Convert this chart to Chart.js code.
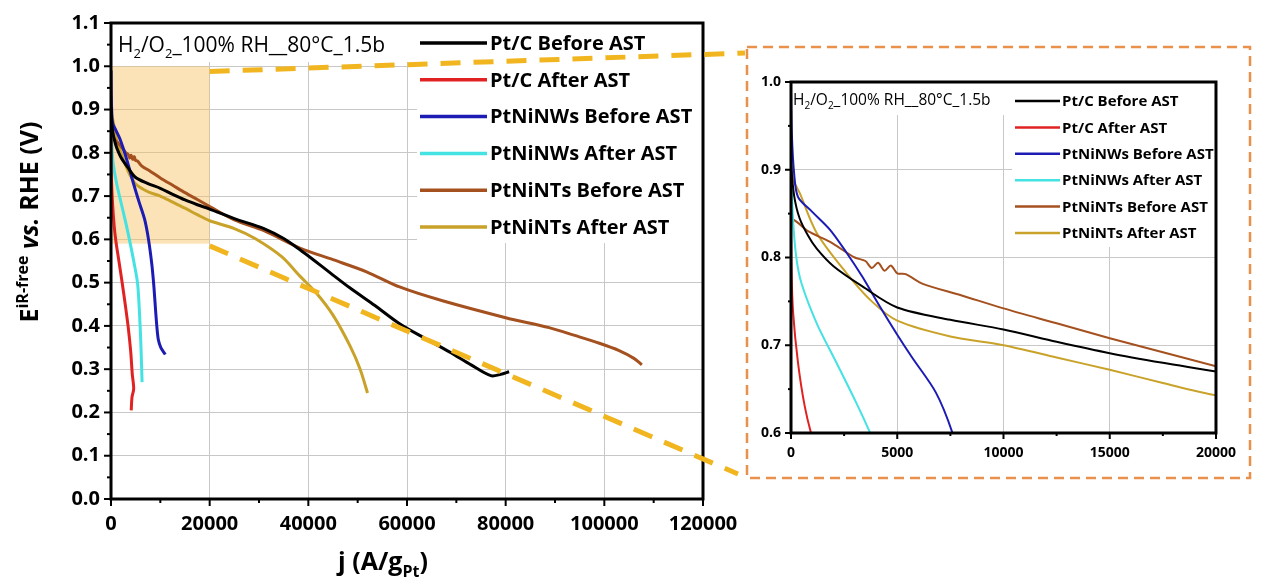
<!DOCTYPE html>
<html><head><meta charset="utf-8">
<script src="https://cdn.jsdelivr.net/npm/chart.js@4"></script>
<style>
html,body{margin:0;padding:0;background:#fff;}
#wrap{position:relative;width:1261px;height:579px;overflow:hidden;background:#fff;}
#main{position:absolute;left:0;top:0;}
#inset{position:absolute;left:749px;top:49px;}
</style></head><body>
<div id="wrap"><canvas id="main" width="1261" height="579"></canvas><canvas id="inset" width="499" height="427"></canvas></div>
<script>
// ---------------- data ----------------
const seriesLabels = ['Pt/C Before AST','Pt/C After AST','PtNiNWs Before AST','PtNiNWs After AST','PtNiNTs Before AST','PtNiNTs After AST'];
const seriesColors = ['#000000','#e12222','#1c1cb4','#44e2e2','#a4501f','#c9a229'];

const ptcBefore = [[0,0.905],[150,0.87],[400,0.845],[800,0.825],[1210,0.81],[2000,0.79],[3360,0.767],[5000,0.743],[7500,0.729],[10000,0.718],[12500,0.704],[15000,0.691],[17500,0.68],[20000,0.67],[25000,0.648],[31000,0.625],[35000,0.602],[38300,0.576],[41000,0.553],[44500,0.522],[48400,0.488],[53500,0.447],[58500,0.405],[63500,0.372],[68600,0.340],[73000,0.310],[77000,0.285],[79000,0.288],[80700,0.294]];
const ptcAfter = [[0,0.86],[20,0.79],[100,0.737],[330,0.68],[650,0.63],[1000,0.595],[1600,0.55],[2300,0.497],[3000,0.44],[3500,0.396],[4000,0.34],[4300,0.29],[4600,0.255],[4250,0.235],[4100,0.205]];
const nwBefore = [[0,0.99],[40,0.94],[150,0.895],[330,0.869],[1000,0.852],[1820,0.832],[2600,0.806],[3360,0.778],[4160,0.745],[5000,0.712],[5700,0.686],[6820,0.646],[7600,0.60],[8300,0.54],[8700,0.49],[9000,0.442],[9300,0.398],[9600,0.368],[10100,0.350],[11000,0.334]];
const nwAfter = [[0,0.92],[80,0.85],[250,0.80],[500,0.77],[1210,0.725],[2140,0.68],[3080,0.634],[3800,0.596],[4600,0.55],[5400,0.497],[5900,0.40],[6100,0.343],[6300,0.27]];
const ntBefore = [[0,0.845],[300,0.84],[800,0.83],[1820,0.818],[3000,0.80],[3500,0.796],[3800,0.788],[4100,0.794],[4400,0.785],[4700,0.791],[5000,0.782],[5400,0.781],[6200,0.770],[8000,0.757],[10000,0.742],[12500,0.725],[15000,0.708],[17500,0.692],[20000,0.676],[25000,0.645],[31000,0.62],[38300,0.58],[45000,0.553],[51800,0.525],[58500,0.49],[67200,0.458],[80000,0.419],[88800,0.396],[94000,0.378],[99000,0.36],[103000,0.343],[106000,0.325],[107600,0.31]];
const ntAfter = [[0,0.93],[100,0.89],[420,0.873],[1210,0.828],[2620,0.782],[3800,0.75],[5000,0.728],[7500,0.71],[10000,0.70],[12500,0.686],[15000,0.672],[17500,0.657],[20000,0.643],[25000,0.625],[29200,0.602],[34600,0.56],[38300,0.515],[41700,0.475],[45000,0.425],[48400,0.355],[50500,0.30],[52000,0.245]];
const allSeries = [ptcBefore, ptcAfter, nwBefore, nwAfter, ntBefore, ntAfter];

// axes
const mainX = {min:0, max:120000, step:20000, minor:10000};
const mainY = {min:0, max:1.1, step:0.1, minor:0.05};
const insetX = {min:0, max:20000, step:5000, minor:2500};
const insetY = {min:0.6, max:1.0, step:0.1, minor:0.05};
// highlighted zoom region on main chart
const zoomX = [0, 20000];
const zoomY = [0.59, 1.0];

// texts
const condText = [['H',0],['2',1],['/O',0],['2',1],['_100% RH__80°C_1.5b',0]];
const xTitle = [['j (A/g',0],['Pt',1],[')',0]];
const yTitle = [['E',0],['iR-free',-1],[' ',0],['vs.',2],[' RHE (V)',0]];

// ---------------- helpers ----------------
const FAM = '"Open Sans", sans-serif';
function partFont(kind, size, bold){
  const w = bold ? 'bold ' : '';
  if (kind===1 || kind===-1) return w + Math.round(size*0.62) + 'px ' + FAM;
  if (kind===2) return 'italic ' + w + size + 'px ' + FAM;
  return w + size + 'px ' + FAM;
}
function richDraw(ctx, x, y, parts, size, bold, align){
  let total = 0;
  for (const [t,k] of parts){ ctx.font = partFont(k,size,bold); total += ctx.measureText(t).width; }
  let cx = align==='center' ? x - total/2 : x;
  ctx.textBaseline = 'alphabetic'; ctx.textAlign = 'left';
  for (const [t,k] of parts){
    ctx.font = partFont(k,size,bold);
    const dy = k===1 ? size*0.28 : (k===-1 ? -size*0.42 : 0);
    ctx.fillText(t, cx, y+dy);
    cx += ctx.measureText(t).width;
  }
}

const decoPlugin = {
  id:'deco',
  beforeDatasetsDraw(chart, args, o){
    const {ctx, scales:{x,y}} = chart;
    ctx.save();
    if (o.shade){
      const x0=x.getPixelForValue(o.shade.x[0]), x1=x.getPixelForValue(o.shade.x[1]);
      const y0=y.getPixelForValue(o.shade.y[1]), y1=y.getPixelForValue(o.shade.y[0]);
      ctx.fillStyle='rgba(246,192,96,0.45)';
      ctx.fillRect(x0,y0,x1-x0,y1-y0);
    }
    ctx.fillStyle='#fff';
    for (const b of o.whiteBoxes) ctx.fillRect(b[0],b[1],b[2],b[3]);
    ctx.restore();
  },
  afterDatasetsDraw(chart, args, o){
    const {ctx, chartArea:a, scales:{x,y}} = chart;
    const f = o.frame;
    ctx.save();
    ctx.strokeStyle='#000';
    ctx.lineWidth=f.lw;
    ctx.strokeRect(a.left, a.top, a.right-a.left, a.bottom-a.top);
    ctx.lineWidth=f.tw;
    const ax=f.ax, ay=f.ay;
    const nx = Math.round((ax.max-ax.min)/ax.minor);
    for (let i=0;i<=nx;i++){
      const v=ax.min+i*ax.minor, px=x.getPixelForValue(v);
      const major = (i % Math.round(ax.step/ax.minor))===0;
      ctx.beginPath(); ctx.moveTo(px,a.bottom); ctx.lineTo(px,a.bottom+(major?f.major:f.minor)); ctx.stroke();
    }
    const ny = Math.round((ay.max-ay.min)/ay.minor);
    for (let i=0;i<=ny;i++){
      const v=ay.min+i*ay.minor, py=y.getPixelForValue(v);
      const major = (i % Math.round(ay.step/ay.minor))===0;
      ctx.beginPath(); ctx.moveTo(a.left,py); ctx.lineTo(a.left-(major?f.major:f.minor),py); ctx.stroke();
    }
    ctx.restore();
  },
  afterDraw(chart, args, o){
    const {ctx, scales:{x,y}} = chart;
    ctx.save();
    ctx.fillStyle='#000';
    richDraw(ctx, o.cond.x, o.cond.y, condText, o.cond.size, false, 'left');
    const L=o.legend;
    chart.data.datasets.forEach((ds,i)=>{
      const ry = L.y0 + i*L.gap;
      ctx.strokeStyle=ds.borderColor; ctx.lineWidth=L.lw;
      ctx.beginPath(); ctx.moveTo(L.x0,ry); ctx.lineTo(L.x1,ry); ctx.stroke();
      ctx.fillStyle='#000'; ctx.font='bold '+L.size+'px '+FAM;
      ctx.textBaseline='middle'; ctx.textAlign='left';
      ctx.fillText(ds.label, L.tx, ry+1);
    });
    if (o.titles){
      ctx.fillStyle='#000';
      richDraw(ctx, o.titles.xx, o.titles.xy, xTitle, o.titles.size, true, 'center');
      ctx.save();
      ctx.translate(o.titles.yx, o.titles.yy);
      ctx.rotate(-Math.PI/2);
      richDraw(ctx, 0, 0, yTitle, o.titles.size, true, 'center');
      ctx.restore();
    }
    if (o.connect){
      const c=o.connect;
      const sx=x.getPixelForValue(zoomX[1]);
      const sy1=y.getPixelForValue(c.topV), sy2=y.getPixelForValue(c.botV);
      ctx.strokeStyle='#f1b61f'; ctx.lineWidth=5; ctx.setLineDash([20,13]); ctx.lineCap='butt';
      ctx.beginPath(); ctx.moveTo(sx,sy1); ctx.lineTo(c.top[0],c.top[1]); ctx.stroke();
      ctx.beginPath(); ctx.moveTo(sx,sy2); ctx.lineTo(c.bot[0],c.bot[1]); ctx.stroke();
      const b=c.box;
      ctx.strokeStyle='#e9914b'; ctx.lineWidth=2.5; ctx.setLineDash([10,6]);
      ctx.strokeRect(b[0],b[1],b[2]-b[0],b[3]-b[1]);
    }
    ctx.restore();
  }
};

function makeDatasets(bw){
  return allSeries.map((s,i)=>({
    label: seriesLabels[i],
    data: s.map(p=>({x:p[0], y:p[1]})),
    borderColor: seriesColors[i],
    backgroundColor: seriesColors[i],
    borderWidth: bw,
    pointRadius: 0,
    tension: 0.3,
    fill: false
  }));
}
function axis(ax, fontSize, pad, fit, isY){
  return {
    type:'linear', min:ax.min, max:ax.max,
    afterFit: fit,
    grid:{color:'#c8c8c8', lineWidth:1, drawTicks:false},
    border:{display:false},
    ticks:{stepSize:ax.step, padding:pad, autoSkip:false, maxRotation:0, color:'#000',
      font:{family:FAM, weight:'bold', size:fontSize},
      callback: isY ? (v=>Number(v).toFixed(1)) : (v=>String(Math.round(v)))}
  };
}

new Chart(document.getElementById('main'), {
  type:'line',
  data:{datasets: makeDatasets(3)},
  options:{
    responsive:false, animation:false, events:[],
    layout:{padding:{left:0, top:21, right:558, bottom:0}},
    scales:{
      x: axis(mainX, 20, 13, s=>{s.height=80;}, false),
      y: axis(mainY, 20, 11, s=>{s.width=111;}, true)
    },
    plugins:{
      legend:{display:false}, tooltip:{enabled:false},
      deco:{
        shade:{x:zoomX, y:zoomY},
        whiteBoxes:[[112,22,305,40],[417,22,285,221]],
        frame:{lw:3, tw:2, major:7, minor:4, ax:mainX, ay:mainY},
        cond:{x:118, y:52, size:21},
        legend:{x0:420, x1:487, tx:490, y0:43, gap:36.8, lw:3.5, size:20},
        titles:{xx:383, xy:570, yx:38, yy:222, size:25},
        connect:{topV:0.988, botV:0.585, top:[745,53], bot:[738,474], box:[747,47,1250,478]}
      }
    }
  },
  plugins:[decoPlugin]
});

new Chart(document.getElementById('inset'), {
  type:'line',
  data:{datasets: makeDatasets(2)},
  options:{
    responsive:false, animation:false, events:[],
    layout:{padding:{left:0, top:33, right:29, bottom:0}},
    scales:{
      x: axis(insetX, 14, 12, s=>{s.height=43;}, false),
      y: axis(insetY, 14, 10, s=>{s.width=42;}, true)
    },
    plugins:{
      legend:{display:false}, tooltip:{enabled:false},
      deco:{
        whiteBoxes:[[43,34,220,32],[263,34,207,164]],
        frame:{lw:3, tw:2, major:6, minor:3, ax:insetX, ay:insetY},
        cond:{x:44, y:56, size:15.5},
        legend:{x0:266, x1:311, tx:313, y0:52, gap:26.4, lw:2.5, size:15}
      }
    }
  },
  plugins:[decoPlugin]
});
</script>
</body></html>
